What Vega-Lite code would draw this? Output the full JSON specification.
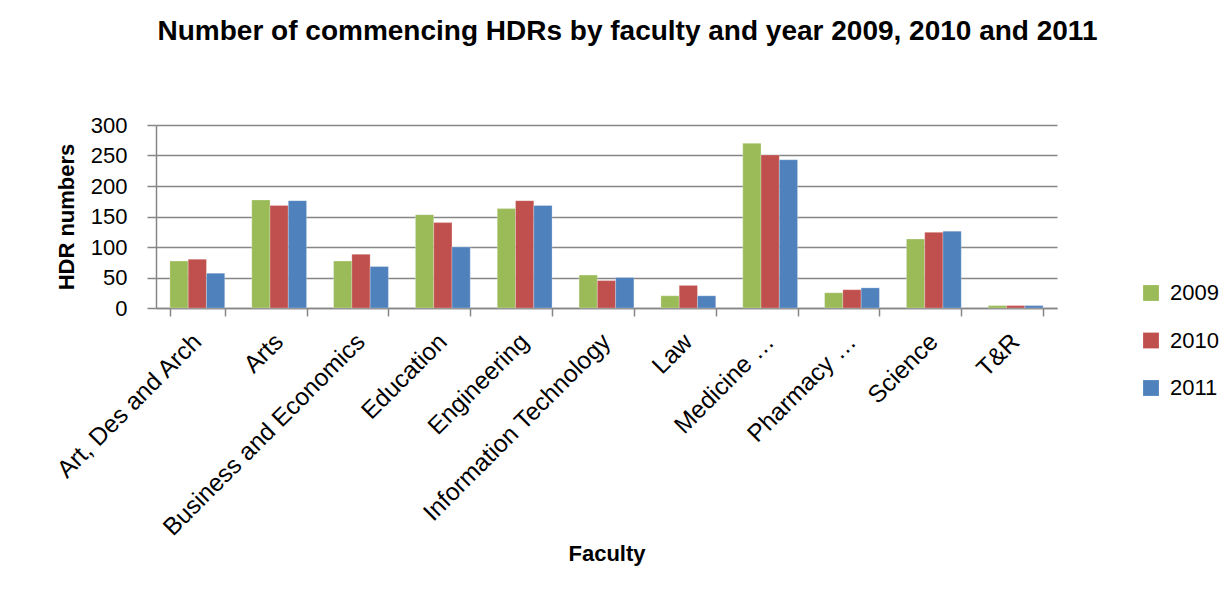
{
  "$schema": "https://vega.github.io/schema/vega-lite/v6.json",
  "autosize": {"type": "none"},
  "width": 901,
  "height": 183,
  "padding": {"left": 156, "top": 125, "right": 174, "bottom": 287},
  "background": "white",
  "title": {
    "text": "Number of commencing HDRs by faculty and year 2009, 2010 and 2011",
    "font": "Liberation Sans",
    "fontSize": 28,
    "fontWeight": "bold",
    "color": "#000000",
    "anchor": "middle",
    "dx": 21,
    "offset": 68
  },
  "data": {
    "values": [
      {"faculty": "Art, Des and Arch", "year": "2009", "hdr": 77},
      {"faculty": "Art, Des and Arch", "year": "2010", "hdr": 80},
      {"faculty": "Art, Des and Arch", "year": "2011", "hdr": 57},
      {"faculty": "Arts", "year": "2009", "hdr": 177},
      {"faculty": "Arts", "year": "2010", "hdr": 168},
      {"faculty": "Arts", "year": "2011", "hdr": 176},
      {"faculty": "Business and Economics", "year": "2009", "hdr": 77},
      {"faculty": "Business and Economics", "year": "2010", "hdr": 88},
      {"faculty": "Business and Economics", "year": "2011", "hdr": 68},
      {"faculty": "Education", "year": "2009", "hdr": 153},
      {"faculty": "Education", "year": "2010", "hdr": 140},
      {"faculty": "Education", "year": "2011", "hdr": 100},
      {"faculty": "Engineering", "year": "2009", "hdr": 163},
      {"faculty": "Engineering", "year": "2010", "hdr": 176},
      {"faculty": "Engineering", "year": "2011", "hdr": 168},
      {"faculty": "Information Technology", "year": "2009", "hdr": 54},
      {"faculty": "Information Technology", "year": "2010", "hdr": 45},
      {"faculty": "Information Technology", "year": "2011", "hdr": 50},
      {"faculty": "Law", "year": "2009", "hdr": 20},
      {"faculty": "Law", "year": "2010", "hdr": 37},
      {"faculty": "Law", "year": "2011", "hdr": 20},
      {"faculty": "Medicine …", "year": "2009", "hdr": 270},
      {"faculty": "Medicine …", "year": "2010", "hdr": 251},
      {"faculty": "Medicine …", "year": "2011", "hdr": 243},
      {"faculty": "Pharmacy …", "year": "2009", "hdr": 25},
      {"faculty": "Pharmacy …", "year": "2010", "hdr": 30},
      {"faculty": "Pharmacy …", "year": "2011", "hdr": 33},
      {"faculty": "Science", "year": "2009", "hdr": 113},
      {"faculty": "Science", "year": "2010", "hdr": 124},
      {"faculty": "Science", "year": "2011", "hdr": 126},
      {"faculty": "T&R", "year": "2009", "hdr": 4},
      {"faculty": "T&R", "year": "2010", "hdr": 4},
      {"faculty": "T&R", "year": "2011", "hdr": 4}
    ]
  },
  "mark": {"type": "bar", "stroke": "white", "strokeOpacity": 0.5, "strokeWidth": 0.5},
  "encoding": {
    "x": {
      "field": "faculty",
      "type": "nominal",
      "sort": null,
      "title": "Faculty",
      "scale": {"paddingInner": 0.33, "paddingOuter": 0.17},
      "axis": {
        "labelAngle": -45,
        "labelAlign": "right",
        "labelBaseline": "middle",
        "labelFont": "Liberation Sans",
        "labelFontSize": 24.5,
        "labelColor": "#000000",
        "labelPadding": 22,
        "labelLimit": 400,
        "tickBand": "extent",
        "tickSize": 8,
        "tickColor": "#868686",
        "tickWidth": 1.5,
        "domainColor": "#868686",
        "domainWidth": 1.5,
        "titleFont": "Liberation Sans",
        "titleFontSize": 22,
        "titleFontWeight": "bold",
        "titleColor": "#000000",
        "titlePadding": 35
      }
    },
    "xOffset": {"field": "year", "type": "nominal"},
    "y": {
      "field": "hdr",
      "type": "quantitative",
      "title": "HDR numbers",
      "scale": {"domain": [0, 300], "nice": false},
      "axis": {
        "values": [0, 50, 100, 150, 200, 250, 300],
        "labelFont": "Liberation Sans",
        "labelFontSize": 22,
        "labelColor": "#000000",
        "labelPadding": 20,
        "tickSize": 9,
        "tickColor": "#868686",
        "tickWidth": 1.5,
        "domainColor": "#868686",
        "domainWidth": 1.5,
        "grid": true,
        "gridColor": "#868686",
        "gridWidth": 1.5,
        "titleFont": "Liberation Sans",
        "titleFontSize": 22,
        "titleFontWeight": "bold",
        "titleColor": "#000000",
        "titlePadding": 12
      }
    },
    "color": {
      "field": "year",
      "type": "nominal",
      "title": null,
      "scale": {"domain": ["2009", "2010", "2011"], "range": ["#9BBB59", "#C0504D", "#4F81BD"]},
      "legend": {
        "orient": "none",
        "legendX": 984,
        "legendY": 157,
        "symbolType": "square",
        "symbolSize": 250,
        "symbolStrokeWidth": 0,
        "labelFont": "Liberation Sans",
        "labelFontSize": 22,
        "labelColor": "#000000",
        "labelOffset": 8,
        "rowPadding": 25.5
      }
    }
  },
  "config": {"view": {"stroke": null}}
}
